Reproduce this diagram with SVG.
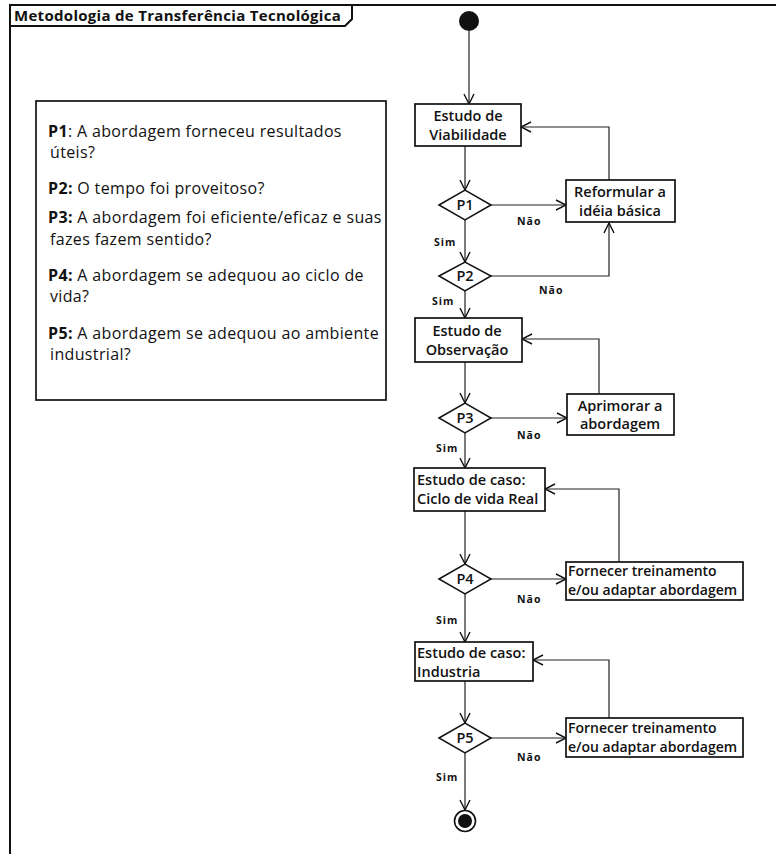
<svg xmlns="http://www.w3.org/2000/svg" width="776" height="854" viewBox="0 0 776 854">
  <style>
    .frame { fill: none; stroke: #111; stroke-width: 2; }
    .box { fill: #fff; stroke: #111; stroke-width: 1.7; }
    .dec { fill: #fff; stroke: #111; stroke-width: 1.5; }
    .edge { fill: none; stroke: #222; stroke-width: 1.2; }
    .t { font-family: "Open Sans", "Noto Sans", sans-serif; fill: #111; }
    .title { font-size: 15px; font-weight: 700; letter-spacing: 0.3px; }
    .node { font-size: 14.5px; font-weight: 600; }
    .node.sm { font-size: 14px; }
    .note { font-size: 16px; letter-spacing: 0.35px; }
    .lbl { font-size: 10.5px; font-weight: 700; letter-spacing: 1px; }
  </style>
  <defs>
    <marker id="open" viewBox="0 0 12 12" refX="11" refY="6" markerWidth="12" markerHeight="12" markerUnits="userSpaceOnUse" orient="auto">
      <path d="M1,1 L11,6 L1,11" fill="none" stroke="#111" stroke-width="1.4"/>
    </marker>
  </defs>

  <rect width="776" height="854" fill="#fff"/>

  <!-- diagram frame with title tab -->
  <g id="frame">
    <path class="frame" d="M10,854 L10,5 L776,5"/>
    <path class="frame" d="M10,26 L345,26 L352,19 L352,5"/>
    <text class="t title" x="14" y="21">Metodologia de Transferência Tecnológica</text>
  </g>

  <!-- question legend -->
  <g id="legend">
    <rect class="box" x="36" y="101" width="350" height="299" stroke-width="1.3"/>
    <text class="t note" x="48" y="137"><tspan font-weight="700">P1</tspan>: A abordagem forneceu resultados</text>
    <text class="t note" x="50" y="158">úteis?</text>
    <text class="t note" x="48" y="194"><tspan font-weight="700">P2:</tspan> O tempo foi proveitoso?</text>
    <text class="t note" x="48" y="223"><tspan font-weight="700">P3:</tspan> A abordagem foi eficiente/eficaz e suas</text>
    <text class="t note" x="50" y="245">fazes fazem sentido?</text>
    <text class="t note" x="48" y="281"><tspan font-weight="700">P4:</tspan> A abordagem se adequou ao ciclo de</text>
    <text class="t note" x="50" y="302">vida?</text>
    <text class="t note" x="48" y="339"><tspan font-weight="700">P5:</tspan> A abordagem se adequou ao ambiente</text>
    <text class="t note" x="50" y="360">industrial?</text>
  </g>

  <!-- connectors -->
  <g id="connectors">
    <path class="edge" d="M469,31 L469,104" marker-end="url(#open)"/>
    <path class="edge" d="M465,146 L465,190" marker-end="url(#open)"/>
    <path class="edge" d="M491,205 L566,205" marker-end="url(#open)"/>
    <path class="edge" d="M465,220 L465,262" marker-end="url(#open)"/>
    <path class="edge" d="M491,276 L609,276 L609,223" marker-end="url(#open)"/>
    <path class="edge" d="M609,180 L609,127 L521,127" marker-end="url(#open)"/>
    <path class="edge" d="M465,291 L465,318" marker-end="url(#open)"/>
    <path class="edge" d="M465,362 L465,403" marker-end="url(#open)"/>
    <path class="edge" d="M491,418 L567,418" marker-end="url(#open)"/>
    <path class="edge" d="M599,394 L599,339 L522,339" marker-end="url(#open)"/>
    <path class="edge" d="M465,433 L465,468" marker-end="url(#open)"/>
    <path class="edge" d="M465,511 L465,564" marker-end="url(#open)"/>
    <path class="edge" d="M491,579 L566,579" marker-end="url(#open)"/>
    <path class="edge" d="M619,562 L619,489 L545,489" marker-end="url(#open)"/>
    <path class="edge" d="M465,594 L465,642" marker-end="url(#open)"/>
    <path class="edge" d="M465,681 L465,723" marker-end="url(#open)"/>
    <path class="edge" d="M491,738 L566,738" marker-end="url(#open)"/>
    <path class="edge" d="M609,718 L609,660 L533,660" marker-end="url(#open)"/>
    <path class="edge" d="M465,753 L465,810" marker-end="url(#open)"/>

    <text class="t lbl" x="517" y="225">Não</text>
    <text class="t lbl" x="434" y="246">Sim</text>
    <text class="t lbl" x="539" y="294">Não</text>
    <text class="t lbl" x="432" y="305">Sim</text>
    <text class="t lbl" x="517" y="439">Não</text>
    <text class="t lbl" x="436" y="452">Sim</text>
    <text class="t lbl" x="517" y="603">Não</text>
    <text class="t lbl" x="436" y="624">Sim</text>
    <text class="t lbl" x="517" y="761">Não</text>
    <text class="t lbl" x="436" y="781">Sim</text>
  </g>

  <!-- start -->
  <g id="start">
    <circle cx="469" cy="21" r="10" fill="#111"/>
  </g>

  <g id="viabilidade">
    <rect class="box" x="415" y="104" width="106" height="42"/>
    <text class="t node" x="468" y="121" text-anchor="middle">Estudo de</text>
    <text class="t node" x="468" y="140" text-anchor="middle">Viabilidade</text>
  </g>

  <g id="p1">
    <path class="dec" d="M439,205 L465,190 L491,205 L465,220 Z"/>
    <text class="t node" x="465" y="210" text-anchor="middle">P1</text>
  </g>

  <g id="reformular">
    <rect class="box" x="566" y="180" width="109" height="42"/>
    <text class="t node" x="620" y="197" text-anchor="middle">Reformular a</text>
    <text class="t node" x="620" y="216" text-anchor="middle">idéia básica</text>
  </g>

  <g id="p2">
    <path class="dec" d="M439,276 L465,262 L491,276 L465,291 Z"/>
    <text class="t node" x="465" y="281" text-anchor="middle">P2</text>
  </g>

  <g id="observacao">
    <rect class="box" x="415" y="318" width="107" height="44"/>
    <text class="t node" x="467" y="336" text-anchor="middle">Estudo de</text>
    <text class="t node" x="467" y="355" text-anchor="middle">Observação</text>
  </g>

  <g id="p3">
    <path class="dec" d="M439,418 L465,403 L491,418 L465,433 Z"/>
    <text class="t node" x="465" y="423" text-anchor="middle">P3</text>
  </g>

  <g id="aprimorar">
    <rect class="box" x="567" y="394" width="107" height="41"/>
    <text class="t node" x="620" y="411" text-anchor="middle">Aprimorar a</text>
    <text class="t node" x="620" y="429" text-anchor="middle">abordagem</text>
  </g>

  <g id="ciclo">
    <rect class="box" x="414" y="468" width="131" height="43"/>
    <text class="t node" x="417" y="485">Estudo de caso:</text>
    <text class="t node" x="417" y="504">Ciclo de vida Real</text>
  </g>

  <g id="p4">
    <path class="dec" d="M439,579 L465,564 L491,579 L465,594 Z"/>
    <text class="t node" x="465" y="584" text-anchor="middle">P4</text>
  </g>

  <g id="fornecer1">
    <rect class="box" x="566" y="562" width="177" height="38"/>
    <text class="t node sm" x="568" y="576">Fornecer treinamento</text>
    <text class="t node sm" x="568" y="595">e/ou adaptar abordagem</text>
  </g>

  <g id="industria">
    <rect class="box" x="415" y="642" width="118" height="39"/>
    <text class="t node" x="417" y="658">Estudo de caso:</text>
    <text class="t node" x="417" y="677">Industria</text>
  </g>

  <g id="p5">
    <path class="dec" d="M439,738 L465,723 L491,738 L465,753 Z"/>
    <text class="t node" x="465" y="743" text-anchor="middle">P5</text>
  </g>

  <g id="fornecer2">
    <rect class="box" x="566" y="718" width="177" height="39"/>
    <text class="t node sm" x="568" y="733">Fornecer treinamento</text>
    <text class="t node sm" x="568" y="752">e/ou adaptar abordagem</text>
  </g>

  <!-- end -->
  <g id="end">
    <circle cx="465" cy="821" r="10.5" fill="#fff" stroke="#111" stroke-width="1.6"/>
    <circle cx="465" cy="821" r="7" fill="#111"/>
  </g>
</svg>
